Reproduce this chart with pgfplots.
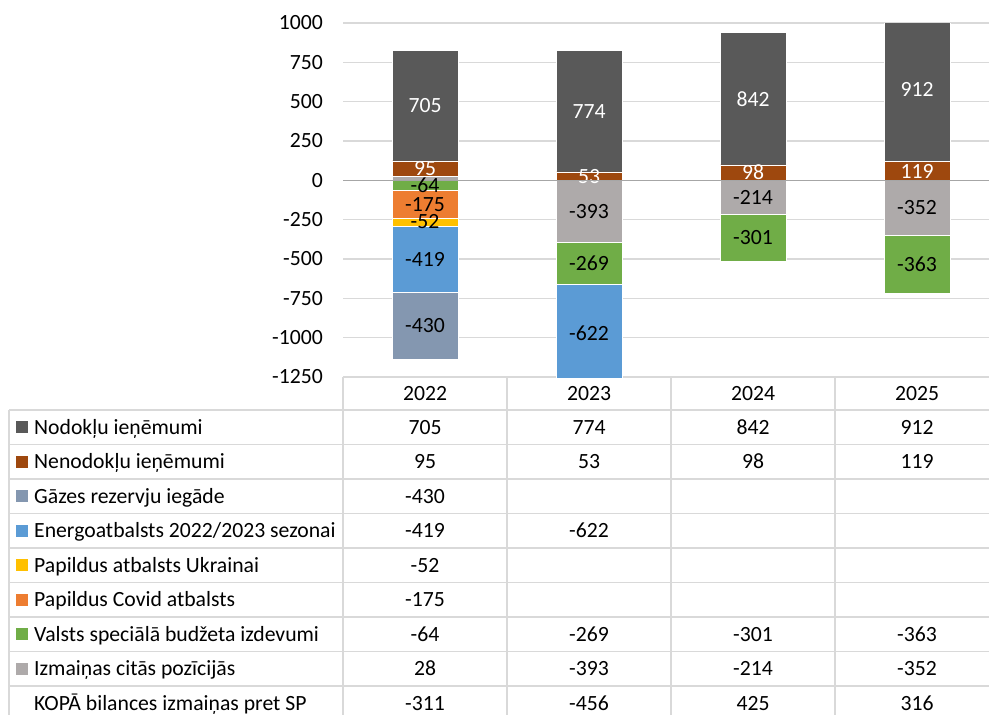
\documentclass[border=0pt]{standalone}
\usepackage{fontspec}
\setmainfont{Carlito}
\usepackage{pgfplots}
\usepackage{pgfplotstable}
\pgfplotsset{compat=1.18}

\definecolor{cNod}{HTML}{595959}
\definecolor{cNen}{HTML}{9E480E}
\definecolor{cGaz}{HTML}{8497B0}
\definecolor{cEne}{HTML}{5B9BD5}
\definecolor{cUkr}{HTML}{FFC000}
\definecolor{cCov}{HTML}{ED7D31}
\definecolor{cVal}{HTML}{70AD47}
\definecolor{cIzm}{HTML}{AEAAAA}
\definecolor{cGrid}{HTML}{D9D9D9}
\definecolor{cZero}{HTML}{A6A6A6}

% data (million EUR), one table per series
\pgfplotstableread{
x y
0 705
1 774
2 842
3 912
}\tNod
\pgfplotstableread{
x y
0 95
1 53
2 98
3 119
}\tNen
\pgfplotstableread{
x y
0 -430
1 0
2 0
3 0
}\tGaz
\pgfplotstableread{
x y
0 -419
1 -622
2 0
3 0
}\tEne
\pgfplotstableread{
x y
0 -52
1 0
2 0
3 0
}\tUkr
\pgfplotstableread{
x y
0 -175
1 0
2 0
3 0
}\tCov
\pgfplotstableread{
x y
0 -64
1 -269
2 -301
3 -363
}\tVal
% Izmainas citas pozicijas: positive part / negative part
\pgfplotstableread{
x y
0 28
1 0
2 0
3 0
}\tIzmP
\pgfplotstableread{
x y
0 0
1 -393
2 -214
3 -352
}\tIzmN

\def\zerostr{0}

\pgfplotsset{
  common/.style={
    scale only axis, width=656pt,
    xmin=-0.5, xmax=3.5,
    axis line style={draw=none},
    major tick length=0pt,
    ybar stacked, bar width=66pt,
  },
  barax/.style={common,
    at={(343pt,-377pt)}, anchor=south west, height=354pt,
    ymin=-1250, ymax=1000,
  },
  labax/.style={common,
    at={(343pt,-416.333pt)}, anchor=south west, height=432.667pt,
    ymin=-1500, ymax=1250, xtick=\empty, ytick=\empty,
    point meta=explicit symbolic,
    nodes near coords={\ifx\pgfplotspointmeta\zerostr\else\pgfplotspointmeta\fi},
    every node near coord/.append style={anchor=center, inner sep=0pt},
  },
  seg/.style={fill=#1, draw=white, line width=0.5pt},
  lab/.style={draw=none, fill=none},
  wl/.style={every node near coord/.append style={text=white}},
}

\newcommand\tabrow[7]{%
  \pgfmathsetmacro\ym{410+34.5*#1+17.25}%
  \ifx\relax#2\relax\else\fill[#2] (16,\ym-6) rectangle (28,\ym+6);\fi
  \node[anchor=base west, inner sep=0pt] at (34,\ym+6.9) {#3};
  \node[anchor=base, inner sep=0pt] at (425,\ym+6.9) {#4};
  \node[anchor=base, inner sep=0pt] at (589,\ym+6.9) {#5};
  \node[anchor=base, inner sep=0pt] at (753,\ym+6.9) {#6};
  \node[anchor=base, inner sep=0pt] at (917,\ym+6.9) {#7};
}

\begin{document}
\fontsize{21.7pt}{26pt}\selectfont
\begin{tikzpicture}
\useasboundingbox (0,0) rectangle (989pt,-715pt);

% positive bars, grid, ticks
\begin{axis}[barax,
  ytick={-1250,-1000,...,1000},
  ymajorgrids, grid style={cGrid, line width=1.2pt},
  /pgf/number format/assume math mode=true,
  /pgf/number format/1000 sep={},
  yticklabel style={anchor=east, inner sep=0pt, xshift=-20pt},
  xtick={0,1,2,3}, xticklabels={2022,2023,2024,2025},
  xticklabel style={anchor=center, inner sep=0pt, yshift=-16.5pt},
]
\addplot[seg=cIzm] table[x=x,y=y] {\tIzmP};
\addplot[seg=cNen] table[x=x,y=y] {\tNen};
\addplot[seg=cNod] table[x=x,y=y] {\tNod};
\end{axis}

% negative bars
\begin{axis}[barax, ytick=\empty, xtick=\empty]
\addplot[seg=cIzm] table[x=x,y=y] {\tIzmN};
\addplot[seg=cVal] table[x=x,y=y] {\tVal};
\addplot[seg=cCov] table[x=x,y=y] {\tCov};
\addplot[seg=cUkr] table[x=x,y=y] {\tUkr};
\addplot[seg=cEne] table[x=x,y=y] {\tEne};
\addplot[seg=cGaz] table[x=x,y=y] {\tGaz};
\end{axis}

% labels of positive segments (same scale, wider range)
\begin{axis}[labax]
\addplot[lab, nodes near coords={}] table[x=x,y=y,meta=y] {\tIzmP};
\addplot[lab, wl] table[x=x,y=y,meta=y] {\tNen};
\addplot[lab, wl] table[x=x,y=y,meta=y] {\tNod};
\end{axis}

% labels of negative segments, zero line on top
\begin{axis}[labax]
\addplot[lab] table[x=x,y=y,meta=y] {\tIzmN};
\addplot[lab] table[x=x,y=y,meta=y] {\tVal};
\addplot[lab] table[x=x,y=y,meta=y] {\tCov};
\addplot[lab] table[x=x,y=y,meta=y] {\tUkr};
\addplot[lab] table[x=x,y=y,meta=y] {\tEne};
\addplot[lab] table[x=x,y=y,meta=y] {\tGaz};
\draw[cZero, line width=1.5pt] (axis cs:-0.5,0) -- (axis cs:3.5,0);
\end{axis}

\begin{scope}[x=1pt, y=-1pt]
\foreach \k in {0,...,8} {
  \draw[cGrid, line width=1.2pt] (9,410+34.5*\k) -- (999,410+34.5*\k);
}
\draw[cGrid, line width=1.2pt] (9,410) -- (9,716);
\foreach \xx in {343,507,671,835,999} {
  \draw[cGrid, line width=1.2pt] (\xx,377) -- (\xx,716);
}
\tabrow{0}{cNod}{Nodokļu ieņēmumi}{705}{774}{842}{912}
\tabrow{1}{cNen}{Nenodokļu ieņēmumi}{95}{53}{98}{119}
\tabrow{2}{cGaz}{Gāzes rezervju iegāde}{-430}{}{}{}
\tabrow{3}{cEne}{Energoatbalsts 2022/2023 sezonai}{-419}{-622}{}{}
\tabrow{4}{cUkr}{Papildus atbalsts Ukrainai}{-52}{}{}{}
\tabrow{5}{cCov}{Papildus Covid atbalsts}{-175}{}{}{}
\tabrow{6}{cVal}{Valsts speciālā budžeta izdevumi}{-64}{-269}{-301}{-363}
\tabrow{7}{cIzm}{Izmaiņas citās pozīcijās}{28}{-393}{-214}{-352}
\tabrow{8}{}{KOPĀ bilances izmaiņas pret SP}{-311}{-456}{425}{316}
\end{scope}
\end{tikzpicture}
\end{document}
